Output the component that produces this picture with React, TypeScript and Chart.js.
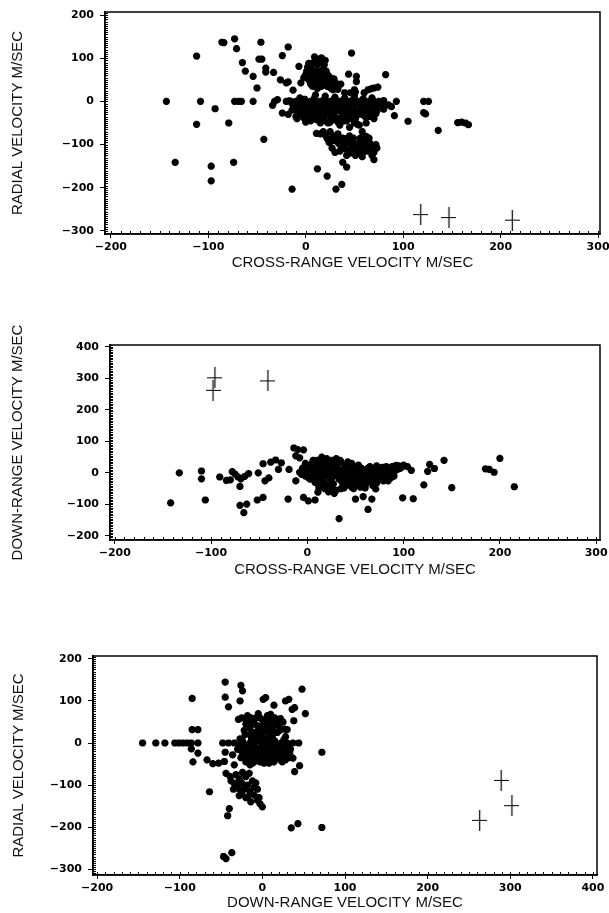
import React, { useEffect, useRef } from "react";
import { Chart, registerables } from "chart.js";
Chart.register(...registerables);

// ---------- tick labels ----------
const crossRangeTicks = [-200, -100, 0, 100, 200, 300];
const crossRangeLabels = ["\u2212200", "\u2212100", "0", "100", "200", "300"];
const radialTicks = [-300, -200, -100, 0, 100, 200];
const radialLabels = ["\u2212300", "\u2212200", "\u2212100", "0", "100", "200"];
const downRangeYTicks = [-200, -100, 0, 100, 200, 300, 400];
const downRangeYLabels = ["\u2212200", "\u2212100", "0", "100", "200", "300", "400"];
const downRangeXTicks = [-200, -100, 0, 100, 200, 300, 400];
const downRangeXLabels = ["\u2212200", "\u2212100", "0", "100", "200", "300", "400"];

// ---------- panel 1: cross-range (x) vs radial (y) ----------
const p1Stars: [number, number][] = [
  [-143, 0], [-134, -141], [-112, 105], [-112, -53], [-108, 0], [-97, -150], [-97, -184], [-93, -17],
  [-86, 137], [-84, 136], [-79, -50], [-74, -141], [-73, 145], [-71, 122], [-73, 0], [-69, 0], [-66, 0],
  [-65, 90], [-62, 70], [-54, 58], [-54, 0], [-50, 31], [-48, 98], [-45, 98], [-46, 137], [-43, -88],
  [-41, 77], [-41, 68], [-33, 67], [-32, 0], [-29, 4], [-34, -9], [-26, 50], [-24, -27], [-24, 106],
  [-18, 126], [-18, 45], [-20, 43], [-13, 26], [-14, -203], [-17, 1], [-15, 0], [-9, -40], [-7, 81], [-5, 43],
  [9, 103], [16, 101], [17, 91], [11, -74], [12, -156], [22, -173], [31, -203], [37, -192], [38, -141],
  [42, -152], [47, 112], [44, 63], [50, 27], [51, 22], [52, 58], [52, 46], [53, -53], [64, 27], [67, 29],
  [70, 31], [74, 33], [82, 62], [85, -8], [88, -12], [80, -18], [93, 0], [91, -33], [105, -46], [121, 0],
  [126, 0], [121, -26], [123, -29], [136, -67], [156, -49], [160, -48], [164, -50], [167, -54],
  [15, -75], [20, -78], [25, -70], [28, -80], [24, -95], [27, -108], [30, -90], [33, -75], [35, -100],
  [38, -85], [40, -110], [43, -95], [45, -80], [47, -105], [48, -118], [50, -100], [52, -112], [55, -95],
  [55, -120], [58, -70], [60, -104], [62, -81], [64, -115], [66, -97], [68, -125], [69, -108], [70, -135],
  [72, -100], [35, -115], [30, -118], [42, -125], [57, -110],
  [18, -70], [22, -86], [26, -92], [32, -82], [36, -92], [39, -100], [41, -86], [44, -112], [46, -92],
  [49, -85], [51, -125], [53, -103], [56, -85], [59, -118], [61, -95], [63, -108], [65, -85], [67, -112],
  [70, -118], [73, -108], [58, -128], [45, -120], [37, -108], [33, -95],
  [2, 80], [4, 60], [6, 52], [8, 45], [5, 40], [10, 70], [12, 85], [14, 60], [15, 50], [18, 75], [20, 95],
  [20, 62], [22, 48], [24, 40], [26, 30], [28, 45], [30, 35], [16, 35], [12, 30], [3, 50], [-2, 55],
  [25, 55], [22, 35], [18, 40], [8, 90], [28, 27], [33, 28], [36, 40],
  [1, 70], [3, 88], [6, 75], [9, 60], [11, 50], [13, 40], [15, 70], [17, 55], [19, 85], [21, 70], [23, 60],
  [25, 45], [27, 38], [29, 52], [31, 42], [5, 65], [7, 35], [10, 100], [14, 95], [0, 62],
  [-20, 0], [-10, 0], [-5, 0], [0, 0], [5, 0], [10, 0], [15, 0], [20, 0], [25, 0], [30, 0], [35, 0],
  [40, 0], [45, 0], [50, 0], [55, 0], [60, 0], [65, 0], [70, 0], [75, 0], [80, 2],
  [-12, -10], [-8, -15], [-4, -20], [0, -25], [2, -10], [4, -30], [6, -18], [8, -40], [10, -5], [12, -22],
  [14, -35], [16, -12], [18, -28], [20, -45], [22, -8], [24, -20], [26, -35], [28, -15], [30, -25],
  [32, -5], [34, -40], [36, -18], [38, -30], [40, -10], [42, -45], [44, -22], [46, -15], [48, -35],
  [50, -8], [52, -25], [56, -18], [58, -30], [60, -12], [62, -22], [65, -35], [68, -8], [70, -20],
  [72, -28], [75, -15], [78, -5], [-2, -38], [5, -45], [15, -50], [25, -48], [35, -55], [45, -60],
  [30, 10], [40, 8], [50, 12], [20, 12], [10, 15], [60, 20], [46, 20], [40, 20], [70, -40], [62, -50],
  [55, -55], [-6, -28], [-14, -20], [-18, -30], [-10, -35], [0, -48],
  [-14, -5], [-11, -18], [-7, -8], [-3, -12], [1, -5], [3, -18], [7, -8], [9, -25], [11, -12], [13, -30],
  [17, -20], [19, -6], [21, -30], [23, -14], [27, -5], [29, -35], [31, -12], [33, -22], [37, -8], [39, -20],
  [41, -32], [43, -4], [47, -25], [49, -14], [51, -40], [53, -4], [54, -30], [57, -8], [59, -20], [61, -35],
  [63, -4], [66, -15], [67, -28], [69, -12], [71, -4], [73, -22], [-8, -25], [-4, -32], [1, -35], [6, -28],
  [11, -42], [17, -38], [23, -50], [28, -42], [33, -48], [39, -45], [45, -40], [50, -50], [-1, 5], [9, 8],
  [19, 4], [29, 5], [39, 4], [49, 5], [59, 6], [68, 8], [-6, 8], [14, -2], [24, -2], [34, -3], [44, -2],
  [54, -2], [64, -2],
];
const p1Crosses: [number, number][] = [[118, -262], [147, -269], [212, -275]];

// ---------- panel 2: cross-range (x) vs down-range (y) ----------
const p2Stars: [number, number][] = [
  [-142, -95], [-133, 0], [-110, 6], [-110, -19], [-106, -86], [-91, -13], [-84, -24], [-80, -22],
  [-78, 4], [-75, -4], [-72, -13], [-70, -43], [-69, -19], [-65, -11], [-61, -2], [-70, -103], [-66, -126],
  [-63, -99], [-52, -86], [-46, -78], [-51, 0], [-46, 29], [-44, -25], [-40, -16], [-38, 34], [-33, 41],
  [-27, 32], [-30, 11], [-20, -83], [-14, 79], [-10, 74], [-4, 73], [-12, 54], [-8, 48], [-19, 11],
  [-12, -25], [-4, -78], [1, -89], [8, -86], [11, -61], [12, -48], [33, -145], [50, -83], [58, -75],
  [63, -116], [67, -83], [71, -51], [99, -79], [110, -82], [121, -38], [125, 5], [127, 27], [132, 14],
  [142, 40], [150, -47], [185, 13], [189, 11], [194, 2], [200, 46], [215, -44],
  [84, 0], [90, 5], [95, 22], [80, -16], [72, -32], [100, 25], [92, 24], [88, 20], [78, 18], [70, 15],
  [65, 20], [60, 10], [55, -10], [50, -20], [45, -30], [40, -40], [35, -50], [30, -55], [25, -45],
  [20, -35], [15, -25], [10, -15], [5, -5], [0, 5], [-5, 15], [0, 20], [5, 30], [10, 40], [15, 50],
  [20, 45], [25, 40], [30, 45], [35, 35], [40, 25], [45, 15], [50, 5], [55, -5], [60, -15], [65, -25],
  [70, -35], [75, -20], [80, -10], [85, -5], [10, 0], [15, 5], [20, 10], [25, 15], [30, 20], [35, 10],
  [40, 0], [45, -5], [30, 0], [20, -10], [25, -20], [35, -25], [40, -15], [50, -35], [55, -45], [60, -40],
  [65, -10], [70, 0], [75, 5], [-2, -10], [3, -20], [8, -30], [12, -40], [18, -50], [22, -60], [28, -65],
  [38, -35], [48, -50], [58, -25], [62, 5], [52, 20], [42, 35], [32, 30], [22, 25], [12, 20], [2, 10],
  [-8, 2], [6, 15], [16, -5], [26, -5], [36, -8], [46, 10], [56, 15], [66, -5], [76, -8], [86, 10],
  [96, 14], [104, 20], [108, 8], [84, -25], [90, -10],
  [-6, -5], [-3, 8], [1, -15], [3, 25], [4, -2], [7, 12], [9, -22], [11, 30], [13, 8], [14, -12], [16, 22],
  [17, -30], [19, 0], [21, 35], [23, -15], [24, 5], [26, 28], [27, -35], [29, -8], [31, 12], [33, -20],
  [34, 40], [36, 2], [37, -40], [39, 18], [41, -5], [43, -25], [44, 10], [46, 30], [47, -15], [49, -42],
  [51, -2], [53, 25], [54, -28], [57, 8], [59, -8], [61, -32], [63, 15], [64, -18], [67, 10], [69, -20],
  [71, -10], [73, 12], [77, 0], [79, -25], [82, 14], [87, -15], [93, 10], [98, 18], [-2, 30], [6, 40],
  [14, 38], [28, 38], [18, -42], [38, -48], [46, -45], [60, -48], [68, -40], [72, 22], [82, 20],
];
const p2Crosses: [number, number][] = [[-98, 262], [-96, 302], [-41, 292]];

// ---------- panel 3: down-range (x) vs radial (y) ----------
const p3Stars: [number, number][] = [
  [-145, 0], [-129, 0], [-118, 0], [-106, 0], [-101, 0], [-96, 0], [-91, 0], [-86, 0], [-78, 0],
  [-48, 0], [-41, 0], [-34, 0], [-25, 0], [-15, 0], [-10, 0], [-1, 0], [9, 0], [16, 0], [23, 0],
  [30, 0], [37, 0], [44, 0],
  [-85, 106], [-85, 32], [-78, 32], [-86, -14], [-78, -24], [-84, -45], [-67, -40], [-60, -49],
  [-53, -48], [-46, -44], [-64, -116], [-45, 145], [-45, 109], [-41, 86], [-45, -22], [-36, -28],
  [-34, -52], [-44, -72], [-39, -80], [-34, -96], [-29, -108], [-25, -120], [-18, -128], [-10, -124],
  [-40, -156], [-42, -173], [-47, -270], [-44, -275], [-37, -261], [-26, 137], [-24, 124], [-27, 100],
  [-29, 56], [-20, 56], [-15, -8], [-14, -16], [-15, -52], [-6, -136], [-3, -144], [0, -152], [1, 104],
  [4, 108], [10, 68], [14, 90], [18, 52], [28, 100], [32, 104], [36, 80], [39, 84], [38, 53], [48, 128],
  [52, 70], [27, 33], [30, 32], [37, -36], [39, -68], [45, -54], [72, -22], [72, -201], [35, -202],
  [43, -192], [13, -28], [23, -32],
  [-38, -90], [-35, -110], [-30, -100], [-28, -85], [-25, -95], [-22, -110], [-20, -80], [-18, -100],
  [-15, -115], [-12, -90], [-10, -105], [-8, -95], [-6, -110], [-4, -130], [-20, -130], [-14, -140],
  [-28, -125], [-32, -75], [-24, -70], [-16, -72],
  [-25, 60], [-20, 45], [-18, 65], [-15, 35], [-12, 50], [-10, 25], [-8, 60], [-5, 40], [-2, 15],
  [0, 55], [3, 30], [5, 45], [8, 20], [10, 55], [12, 35], [15, 60], [18, 25], [20, 40], [22, 58],
  [25, 50], [-22, 30], [-5, 70], [6, 65], [-15, 20], [2, 10], [12, 12],
  [-28, -5], [-25, -20], [-22, -10], [-20, -30], [-18, -5], [-15, -40], [-12, -25], [-10, -10],
  [-8, -35], [-5, -20], [-3, -45], [0, -10], [2, -30], [5, -15], [7, -40], [10, -5], [12, -20],
  [14, -45], [16, -10], [18, -30], [20, -15], [22, -40], [25, -5], [27, -25], [30, -15], [32, -35],
  [-6, 5], [6, 8], [15, 5], [26, 8], [-26, -35], [-20, -45], [8, -48], [0, -40], [-12, -48], [20, -22],
  [28, -40],
  [-27, 10], [-24, -30], [-21, 20], [-19, -15], [-17, 50], [-16, -25], [-13, 10], [-11, -38], [-9, 45],
  [-7, -12], [-6, 28], [-4, -30], [-1, 40], [1, -22], [1, 25], [4, -5], [4, -35], [6, 50], [8, -25],
  [9, 35], [11, -10], [13, 22], [13, -38], [15, -22], [17, 45], [19, -5], [21, 30], [23, -12], [24, -45],
  [26, -20], [28, 15], [29, -30], [31, -8], [33, -25], [-20, -20], [-10, -45], [2, -48], [16, -32],
  [-14, 60], [-3, 60], [9, 62], [19, 55], [-30, -15], [-24, 5], [34, -15], [-8, 15], [7, -10], [11, 42],
];
const p3Crosses: [number, number][] = [[263, -184], [289, -89], [302, -149]];

type PanelSpec = {
  top: number;
  height: number;
  pad: { top: number; right: number; bottom: number; left: number };
  yWidth: number;
  xHeight: number;
  xMin: number; xMax: number; yMin: number; yMax: number;
  xTicks: number[]; xLabels: string[];
  yTicks: number[]; yLabels: string[];
  xTitle: string; yTitle: string;
  yTitlePad: number;
  stars: [number, number][];
  crosses: [number, number][];
};

const panels: PanelSpec[] = [
  {
    top: 0, height: 272, pad: { top: 12, right: 7, bottom: 0, left: 0 }, yWidth: 105, xHeight: 38,
    xMin: -206, xMax: 302, yMin: -307, yMax: 207,
    xTicks: crossRangeTicks, xLabels: crossRangeLabels, yTicks: radialTicks, yLabels: radialLabels,
    xTitle: "CROSS-RANGE VELOCITY M/SEC", yTitle: "RADIAL VELOCITY M/SEC", yTitlePad: 9,
    stars: p1Stars, crosses: p1Crosses,
  },
  {
    top: 300, height: 279, pad: { top: 45, right: 5, bottom: 0, left: 0 }, yWidth: 110, xHeight: 39,
    xMin: -205, xMax: 304, yMin: -213, yMax: 406,
    xTicks: crossRangeTicks, xLabels: crossRangeLabels, yTicks: downRangeYTicks, yLabels: downRangeYLabels,
    xTitle: "CROSS-RANGE VELOCITY M/SEC", yTitle: "DOWN-RANGE VELOCITY M/SEC", yTitlePad: 9,
    stars: p2Stars, crosses: p2Crosses,
  },
  {
    top: 600, height: 313, pad: { top: 56, right: 12, bottom: 1, left: 0 }, yWidth: 93, xHeight: 37,
    xMin: -205, xMax: 405, yMin: -314, yMax: 207,
    xTicks: downRangeXTicks, xLabels: downRangeXLabels, yTicks: radialTicks, yLabels: radialLabels,
    xTitle: "DOWN-RANGE VELOCITY M/SEC", yTitle: "RADIAL VELOCITY M/SEC", yTitlePad: 10,
    stars: p3Stars, crosses: p3Crosses,
  },
];

const frameAndMinorTicks = {
  id: "frameAndMinorTicks",
  afterDraw(chart: any) {
    const { ctx, chartArea } = chart;
    const xs = chart.scales.x;
    const ys = chart.scales.y;
    ctx.save();
    ctx.strokeStyle = "#000";
    ctx.lineWidth = 1.5;
    ctx.strokeRect(chartArea.left, chartArea.top, chartArea.right - chartArea.left, chartArea.bottom - chartArea.top);
    ctx.lineWidth = 1;
    ctx.beginPath();
    const xStep = 10;
    for (let v = Math.ceil(xs.min / xStep) * xStep; v <= xs.max; v += xStep) {
      const px = Math.round(xs.getPixelForValue(v)) + 0.5;
      ctx.moveTo(px, chartArea.bottom);
      ctx.lineTo(px, chartArea.bottom - 3);
    }
    const yStep = 5;
    for (let v = Math.ceil(ys.min / yStep) * yStep; v <= ys.max; v += yStep) {
      const py = Math.round(ys.getPixelForValue(v)) + 0.5;
      ctx.moveTo(chartArea.left, py);
      ctx.lineTo(chartArea.left + 3, py);
    }
    ctx.stroke();
    ctx.restore();
  },
};

function makeCrossImage(): HTMLCanvasElement {
  const c = document.createElement("canvas");
  c.width = 15;
  c.height = 21;
  const g = c.getContext("2d")!;
  g.strokeStyle = "#000";
  g.lineWidth = 1.2;
  g.beginPath();
  g.moveTo(0, 10.5);
  g.lineTo(15, 10.5);
  g.moveTo(7.5, 0);
  g.lineTo(7.5, 21);
  g.stroke();
  return c;
}

function Panel({ spec }: { spec: PanelSpec }) {
  const ref = useRef<HTMLCanvasElement | null>(null);
  useEffect(() => {
    if (!ref.current) return;
    const crossImg = makeCrossImage();
    const tickFont = { family: "'DejaVu Sans', sans-serif", size: 11, weight: "bold" as const };
    const titleFont = { family: "'Liberation Sans', Arial, sans-serif", size: 15 };
    const chart = new Chart(ref.current, {
      type: "scatter",
      data: {
        datasets: [
          {
            data: spec.stars.map(([x, y]) => ({ x, y })),
            pointStyle: "star",
            pointRadius: 3.6,
            pointBorderWidth: 2.4,
            borderColor: "#000",
            backgroundColor: "#000",
          },
          {
            data: spec.crosses.map(([x, y]) => ({ x, y })),
            pointStyle: crossImg as any,
            pointRadius: 8,
            borderColor: "#000",
            backgroundColor: "#000",
          },
        ],
      },
      options: {
        animation: false,
        responsive: false,
        devicePixelRatio: 1,
        layout: { padding: spec.pad },
        plugins: { legend: { display: false }, tooltip: { enabled: false } },
        scales: {
          x: {
            type: "linear",
            min: spec.xMin,
            max: spec.xMax,
            afterBuildTicks: (s: any) => { s.ticks = spec.xTicks.map((v) => ({ value: v })); },
            afterFit: (s: any) => { s.height = spec.xHeight; s.paddingLeft = 0; s.paddingRight = 0; },
            ticks: {
              autoSkip: false,
              maxRotation: 0,
              padding: 3,
              color: "#000",
              font: tickFont,
              callback: (v: any) => {
                const i = spec.xTicks.indexOf(Number(v));
                return i >= 0 ? spec.xLabels[i] : "";
              },
            },
            grid: { display: true, drawOnChartArea: false, drawTicks: true, tickLength: 4, color: "#000", lineWidth: 1 },
            border: { display: true, color: "#000", width: 1.5 },
            title: { display: true, text: spec.xTitle, color: "#111", font: titleFont, padding: { top: 0, bottom: 0 } },
          },
          y: {
            type: "linear",
            min: spec.yMin,
            max: spec.yMax,
            afterBuildTicks: (s: any) => { s.ticks = spec.yTicks.map((v) => ({ value: v })); },
            afterFit: (s: any) => { s.width = spec.yWidth; s.paddingTop = 0; s.paddingBottom = 0; },
            ticks: {
              autoSkip: false,
              padding: 6,
              color: "#000",
              font: tickFont,
              callback: (v: any) => {
                const i = spec.yTicks.indexOf(Number(v));
                return i >= 0 ? spec.yLabels[i] : "";
              },
            },
            grid: { display: true, drawOnChartArea: false, drawTicks: true, tickLength: 5, color: "#000", lineWidth: 1 },
            border: { display: true, color: "#000", width: 1.5 },
            title: { display: true, text: spec.yTitle, color: "#111", font: titleFont, padding: { top: spec.yTitlePad, bottom: 0 } },
          },
        },
      },
      plugins: [frameAndMinorTicks],
    });
    return () => chart.destroy();
  }, [spec]);
  return (
    <div style={{ position: "absolute", left: 0, top: spec.top, width: 609, height: spec.height }}>
      <canvas ref={ref} width={609} height={spec.height} style={{ display: "block" }} />
    </div>
  );
}

export default function App() {
  return (
    <div style={{ position: "absolute", left: 0, top: 0, width: 609, height: 913, background: "#fff", overflow: "hidden" }}>
      {panels.map((p, i) => (
        <Panel key={i} spec={p} />
      ))}
    </div>
  );
}
